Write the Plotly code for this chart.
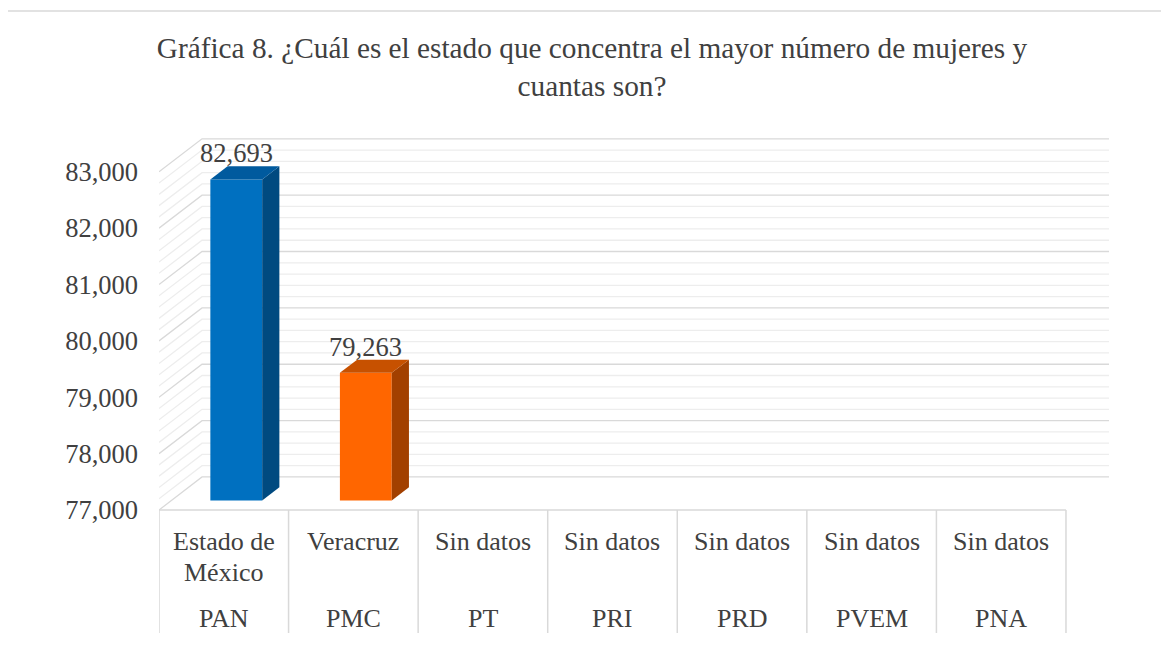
import plotly.graph_objects as go

# ---------------- data ----------------
states = ["Estado de<br>México", "Veracruz", "Sin datos", "Sin datos", "Sin datos", "Sin datos", "Sin datos"]
parties = ["PAN", "PMC", "PT", "PRI", "PRD", "PVEM", "PNA"]
values = [82693, 79263, None, None, None, None, None]
y_ticks = [77000, 78000, 79000, 80000, 81000, 82000, 83000]
title_text = "Gráfica 8. ¿Cuál es el estado que concentra el mayor número de mujeres y<br>cuantas son?"

# ---------------- style ----------------
FONT = "Liberation Serif"
TXT = "#404040"
BASE = y_ticks[0]
TOP = y_ticks[-1]
MINOR = 200
DX = 0.332      # depth offset along x (category units)
DY = 586        # depth offset along y (value units)
F0, F1 = 0.29, 0.69   # bar front/back position in depth
BW = 0.40       # bar width
front_cols = ["#0070C0", "#FF6600"]
top_cols = ["#005A9E", "#C75100"]
side_cols = ["#004A80", "#A24000"]
MAJOR_GRID = "#D9D9D9"
MINOR_GRID = "#EDEDED"

W, H = 1161, 640
ML, MR, MT, MB = 151, 60, 130, 138
PW, PH = W - ML - MR, H - MT - MB

n = len(parties)
x_left, x_right = -0.5, n - 0.5

fig = go.Figure()
shapes = []

# gridlines: left wall diagonals + back wall horizontals (drawn below the bars)
v = BASE
while v <= TOP:
    is_major = (v - BASE) % 1000 == 0
    path = (f"M {x_left},{v} L {x_left + DX},{v + DY} L {x_right + DX},{v + DY}")
    shapes.append(dict(type="path", xref="x", yref="y", path=path, layer="below",
                       line=dict(color=MAJOR_GRID if is_major else MINOR_GRID, width=1.3)))
    v += MINOR

# bars (front face as real bars, top & side as polygons)
for i, v in enumerate(values):
    if v is None:
        continue
    cx = i + F0 * DX
    xl, xr = cx - BW / 2, cx + BW / 2
    yb, yt = BASE + F0 * DY, v + F0 * DY
    ddx, ddy = (F1 - F0) * DX, (F1 - F0) * DY
    fig.add_trace(go.Bar(x=[cx], y=[v - BASE], base=[yb], width=[BW],
                         marker=dict(color=front_cols[i % 2], line=dict(width=0)),
                         showlegend=False, hoverinfo="skip"))
    fig.add_trace(go.Scatter(x=[xr, xr + ddx, xr + ddx, xr, xr],
                             y=[yb, yb + ddy, yt + ddy, yt, yb],
                             fill="toself", fillcolor=side_cols[i % 2], mode="lines",
                             line=dict(width=0, color=side_cols[i % 2]),
                             showlegend=False, hoverinfo="skip"))
    fig.add_trace(go.Scatter(x=[xl, xr, xr + ddx, xl + ddx, xl],
                             y=[yt, yt, yt + ddy, yt + ddy, yt],
                             fill="toself", fillcolor=top_cols[i % 2], mode="lines",
                             line=dict(width=0, color=top_cols[i % 2]),
                             showlegend=False, hoverinfo="skip"))
    fig.add_annotation(x=cx, y=v + F1 * DY, text=f"{v:,}", showarrow=False,
                       yanchor="bottom", xanchor="center", yshift=-4,
                       font=dict(family=FONT, size=26.5, color=TXT))

# category table
shapes.append(dict(type="line", xref="x", yref="paper", x0=x_left, x1=x_right, y0=0, y1=0,
                   line=dict(color=MAJOR_GRID, width=1.5)))
for k in range(n + 1):
    shapes.append(dict(type="line", xref="x", yref="paper", x0=x_left + k, x1=x_left + k,
                       y0=0, y1=-123 / PH, line=dict(color=MAJOR_GRID, width=1.5)))
# outer chart border (cropped at right/bottom)
shapes.append(dict(type="rect", xref="paper", yref="paper",
                   x0=(7 - 159) / PW, x1=(1190 - 159) / PW,
                   y0=(510 - 680) / PH, y1=(510 - 11) / PH,
                   line=dict(color="#D9D9D9", width=1.5), fillcolor="rgba(0,0,0,0)", layer="below"))

LINE_GAP = 31
for i in range(n):
    for j, line in enumerate(states[i].split("<br>")):
        fig.add_annotation(x=i, y=0, yref="paper", text=line, showarrow=False,
                           yanchor="middle", yshift=-31 - j * LINE_GAP,
                           font=dict(family=FONT, size=26, color=TXT))
    fig.add_annotation(x=i, y=0, yref="paper", text=parties[i], showarrow=False,
                       yanchor="middle", yshift=-108, font=dict(family=FONT, size=26, color=TXT))

fig.update_layout(
    width=W, height=H,
    margin=dict(l=ML, r=MR, t=MT, b=MB),
    paper_bgcolor="white", plot_bgcolor="white",
    title=dict(text=title_text, x=584 / W, xanchor="center", xref="container",
               y=1 - 50 / H, yanchor="top", yref="container",
               font=dict(family=FONT, size=29.3, color=TXT)),
    xaxis=dict(range=[x_left, x_right + DX], showgrid=False, zeroline=False,
               showticklabels=False, showline=False, fixedrange=True),
    yaxis=dict(range=[BASE, TOP + 600], tickvals=y_ticks, tickformat=",d",
               showgrid=False, zeroline=False, showline=False, ticks="",
               ticklabelstandoff=20, tickfont=dict(family=FONT, size=26.5, color=TXT)),
    shapes=shapes,
    barmode="overlay",
    showlegend=False,
)

fig.write_html("out.html")
